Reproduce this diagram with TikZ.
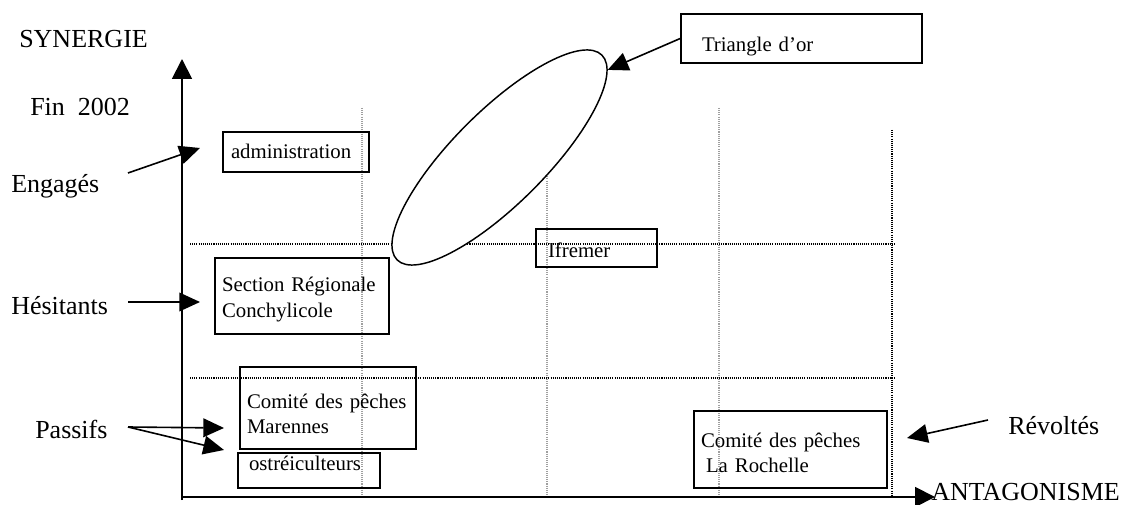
\documentclass[tikz,border=0pt]{standalone}
\usepackage{fontspec}
\setmainfont{Liberation Serif}
\usetikzlibrary{arrows.meta,shapes.geometric}
\begin{document}
\begin{tikzpicture}[x=0.75pt,y=-0.75pt,
  lbl/.style={anchor=base west, inner sep=0pt, font=\fontsize{19.5}{23}\selectfont},
  box/.style={draw, line width=1.2pt, inner ysep=0pt, align=left, font=\fontsize{15.6}{19}\selectfont},
  arr/.style={line width=1.2pt, -{Triangle[length=15.5pt,width=14pt]}},
  axis/.style={line width=1.4pt, -{Triangle[length=15pt,width=15pt]}},
  gridg/.style={gray!75, line width=0.8pt, dash pattern=on 0.8pt off 0.8pt},
  gridk/.style={black, line width=0.8pt, dash pattern=on 0.8pt off 0.8pt},
]
\useasboundingbox (0,0) rectangle (1127,505);

% grid
\draw[gridg] (362,108) -- (362,495);
\draw[gridg] (547,108) -- (547,495);
\draw[gridg] (719,108) -- (719,495);
\draw[gridk, line width=1.1pt] (892,130) -- (892,495);
\draw[gridk] (190,244) -- (895,244);
\draw[gridk] (190,378) -- (895,378);

% axes
\coordinate (vbot) at (182,500);
\coordinate (vtop) at (182,59);
\coordinate (hleft) at (182,497);
\coordinate (hright) at (935,497);
\draw[axis] (vbot) -- (vtop);
\draw[axis] (hleft) -- (hright);

% ellipse
\node[draw, fill=white, ellipse, line width=1.1pt, minimum width=217.2pt, minimum height=69.6pt, inner sep=0pt, rotate=45] (gold) at (499.5,157.5) {};

% labels
\node[lbl] (syn) at (19,48) {SYNERGIE};
\node[lbl] (fin) at (30,116) {Fin\ \ 2002};
\node[lbl] (eng) at (11,193) {Engagés};
\node[lbl] (hes) at (11,315) {Hésitants};
\node[lbl] (pas) at (35,438) {Passifs};
\node[lbl] (rev) at (1008,435) {Révoltés};
\node[lbl] (ant) at (931,500) {ANTAGONISME};

% boxes
\node[box, inner xsep=6pt, text width=97.5pt, text height=20.25pt, text depth=9.75pt] (adm) at (296,152) {administration};
\node[box, inner xsep=5.25pt, text width=120pt, text height=25.5pt, text depth=31.5pt, font=\fontsize{15.6}{19.5}\selectfont] (src) at (302,296) {Section Régionale\\Conchylicole};
\node[box, inner xsep=5.25pt, text width=121.5pt, text height=31.5pt, text depth=30pt, font=\fontsize{15.6}{18}\selectfont] (cpm) at (328,408) {Comité des pêches\\Marennes};
\node[box, inner xsep=8.25pt, text width=90pt, text height=12.75pt, text depth=13.5pt] (ost) at (309,470.5) {ostréiculteurs};
\node[box, inner xsep=9pt, text width=72.75pt, text height=21.75pt, text depth=6.75pt] (ifr) at (596.5,248) {Ifremer};
\node[box, inner xsep=5.25pt, text width=134.25pt, text height=27pt, text depth=30.75pt, font=\fontsize{15.6}{18.75}\selectfont] (cpr) at (790.5,449.5) {Comité des pêches\\\hspace*{3.75pt}La Rochelle};
\node[box, inner xsep=15.75pt, text width=149.25pt, text height=28.5pt, text depth=8.25pt] (tri) at (801.5,38.5) {Triangle d’or};

% arrows
\coordinate (engS) at (128,173);
\coordinate (engT) at (200,148);
\coordinate (hesS) at (128,302);
\coordinate (hesT) at (200,302);
\coordinate (pasS) at (128,427);
\coordinate (pasT1) at (224,428);
\coordinate (pasT2) at (224,450);
\coordinate (revS) at (988,420);
\coordinate (revT) at (907,438);
\draw[arr] (engS) -- (engT);
\draw[arr] (hesS) -- (hesT);
\draw[arr] (pasS) -- (pasT1);
\draw[arr] (pasS) -- (pasT2);
\draw[arr] (revS) -- (revT);
\draw[arr] (tri.west) -- (gold.-6);
\end{tikzpicture}
\end{document}
